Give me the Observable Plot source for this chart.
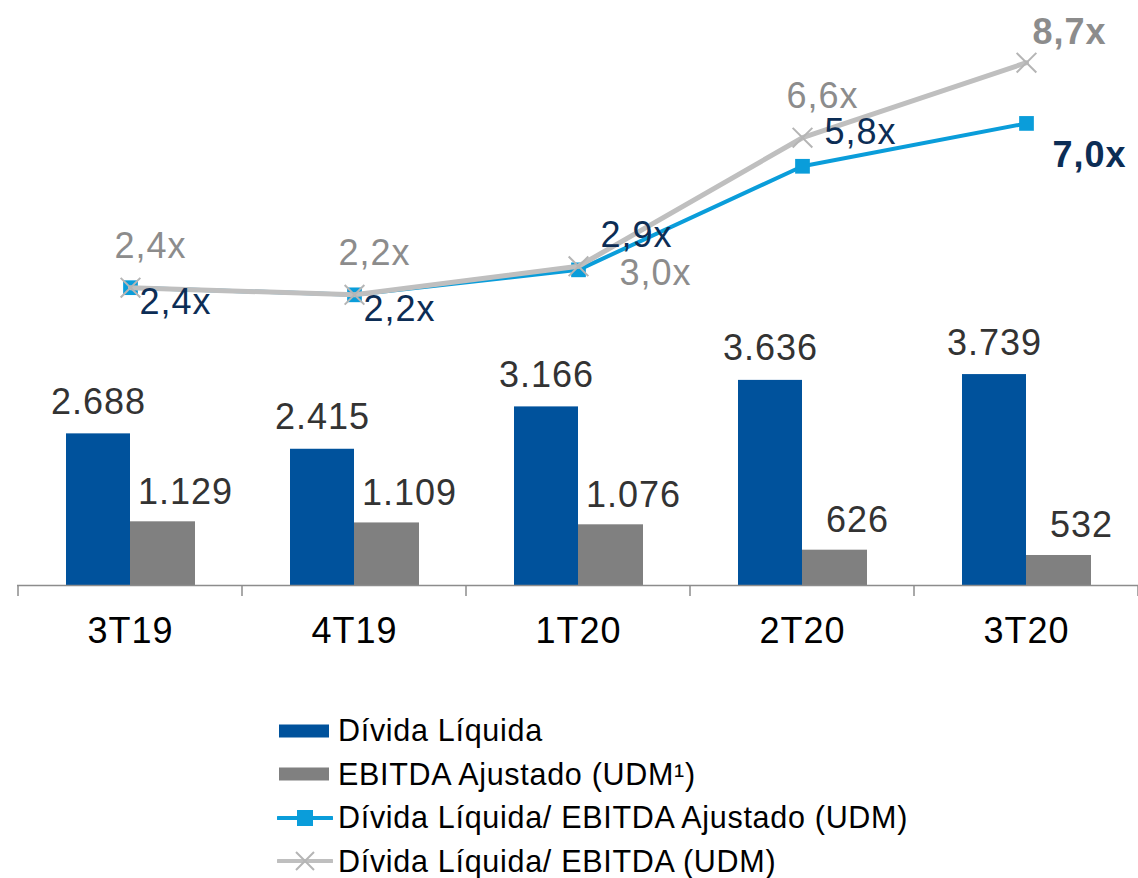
<!DOCTYPE html>
<html>
<head>
<meta charset="utf-8">
<script src="https://cdn.jsdelivr.net/npm/d3@7"></script>
<script src="https://cdn.jsdelivr.net/npm/@observablehq/plot@0.6"></script>
<style>
  body { margin: 0; background: #fff; font-family: "Liberation Sans", Arial, sans-serif; }
  #chart svg text { letter-spacing: 1px; }
  #legend { margin-left: 277px; margin-top: 19px; font-size: 30.5px; letter-spacing: 0.7px; color: #000; }
  .row { display: flex; align-items: center; height: 43.5px; white-space: nowrap; }
  .row svg { margin-right: 5px; flex: none; }
</style>
</head>
<body>
<div id="chart"></div>
<div id="legend"></div>
<script>
// ---- data ----
const quarters = ["3T19", "4T19", "1T20", "2T20", "3T20"];
const dividaLiquida = [2688, 2415, 3166, 3636, 3739];
const ebitdaAjustado = [1129, 1109, 1076, 626, 532];
const ratioAjustado = [2.4, 2.2, 2.9, 5.8, 7.0];   // Dívida Líquida / EBITDA Ajustado (UDM)
const ratioReportado = [2.4, 2.2, 3.0, 6.6, 8.7];  // Dívida Líquida / EBITDA (UDM)
const seriesNames = [
  "Dívida Líquida",
  "EBITDA Ajustado (UDM¹)",
  "Dívida Líquida/ EBITDA Ajustado (UDM)",
  "Dívida Líquida/ EBITDA (UDM)"
];
// label placement relative to each line point
const ratioAjustadoSide = ["below", "below", "above", "above", "below"];
const ratioReportadoSide = ["above", "above", "below", "above", "above"];

// ---- colours ----
const C_DEBT = "#00529C";
const C_EBITDA = "#808080";
const C_LINE_ADJ = "#0A9DDA";
const C_LINE_REP = "#BFBFBF";
const C_LABEL_ADJ = "#0C2D55";
const C_LABEL_REP = "#8C8C8C";

// ---- formatting ----
const ptBR = d3.formatLocale({decimal: ",", thousands: ".", grouping: [3], currency: ["R$", ""]});
const fmtInt = ptBR.format(",.0f");
const fmtRatio = v => ptBR.format(".1f")(v) + "x";

// ---- scales: bars on y; ratio lines mapped into the upper band of the same y scale ----
const Y_MAX = 10370;
const RATIO_ZERO = 3760;
const RATIO_UNIT = 633;
const ratioY = v => RATIO_ZERO + v * RATIO_UNIT;

const rows = quarters.map((q, i) => ({
  q,
  debt: dividaLiquida[i],
  ebitda: ebitdaAjustado[i],
  adj: ratioAjustado[i],
  rep: ratioReportado[i],
  adjSide: ratioAjustadoSide[i],
  repSide: ratioReportadoSide[i],
  last: i === quarters.length - 1
}));

function separators(index, scales, values, dims) {
  const x = scales.x;
  const bw = x.bandwidth ? x.bandwidth() : (dims.width - dims.marginLeft - dims.marginRight) / quarters.length;
  const y0 = scales.y(0);
  const xs = quarters.map(q => x(q));
  xs.push(x(quarters[quarters.length - 1]) + bw);
  const g = d3.create("svg:g");
  g.selectAll("line").data(xs).join("line")
    .attr("x1", d => d).attr("x2", d => d)
    .attr("y1", y0).attr("y2", y0 + 11)
    .attr("stroke", "#8C8C8C").attr("stroke-width", 1.5);
  return g.node();
}

const FS = 36;

const chart = Plot.plot({
  width: 1138,
  height: 690,
  marginLeft: 17,
  marginRight: 0,
  marginTop: 0,
  marginBottom: 105,
  style: {fontFamily: "'Liberation Sans', Arial, sans-serif", background: "#fff"},
  x: {type: "band", domain: quarters, padding: 0, label: null},
  y: {domain: [0, Y_MAX], axis: null},
  marks: [
    Plot.axisX({tickSize: 0, tickPadding: 32, fontSize: 36, fill: "#000", color: "#000", label: null}),
    Plot.barY(rows, {x: "q", y: "debt", fill: C_DEBT, insetLeft: 48, insetRight: 112}),
    Plot.barY(rows, {x: "q", y: "ebitda", fill: C_EBITDA, insetLeft: 112, insetRight: 47}),
    Plot.ruleY([0], {stroke: "#8C8C8C", strokeWidth: 1.5}),
    separators,
    Plot.text(rows, {x: "q", y: "debt", text: d => fmtInt(d.debt), dx: -32, dy: -20,
      lineAnchor: "bottom", fontSize: FS, fill: "#333"}),
    Plot.text(rows, {x: "q", y: "ebitda", text: d => fmtInt(d.ebitda), dx: 55, dy: -18,
      lineAnchor: "bottom", fontSize: FS, fill: "#333"}),
    // adjusted ratio line (blue, squares)
    Plot.line(rows, {x: "q", y: d => ratioY(d.adj), stroke: C_LINE_ADJ, strokeWidth: 4}),
    Plot.dot(rows, {x: "q", y: d => ratioY(d.adj), symbol: "square", r: 8.3, fill: C_LINE_ADJ}),
    // reported ratio line (gray, crosses)
    Plot.line(rows, {x: "q", y: d => ratioY(d.rep), stroke: C_LINE_REP, strokeWidth: 5}),
    Plot.dot(rows, {x: "q", y: d => ratioY(d.rep), symbol: "times", r: 9, stroke: "#B5B5B5", strokeWidth: 2}),
    // ratio labels
    Plot.text(rows.filter(d => !d.last && d.repSide === "above"), {x: "q", y: d => ratioY(d.rep), text: d => fmtRatio(d.rep),
      dx: 20, dy: -41, fontSize: FS, fill: C_LABEL_REP}),
    Plot.text(rows.filter(d => !d.last && d.repSide === "below"), {x: "q", y: d => ratioY(d.rep), text: d => fmtRatio(d.rep),
      dx: 77, dy: 7, fontSize: FS, fill: C_LABEL_REP}),
    Plot.text(rows.filter(d => d.last), {x: "q", y: d => ratioY(d.rep), text: d => fmtRatio(d.rep),
      dx: 43, dy: -30, fontSize: FS, fontWeight: "bold", fill: C_LABEL_REP}),
    Plot.text(rows.filter(d => !d.last && d.adjSide === "below"), {x: "q", y: d => ratioY(d.adj), text: d => fmtRatio(d.adj),
      dx: 45, dy: 15, fontSize: FS, fill: C_LABEL_ADJ}),
    Plot.text(rows.filter(d => !d.last && d.adjSide === "above"), {x: "q", y: d => ratioY(d.adj), text: d => fmtRatio(d.adj),
      dx: 58, dy: -34, fontSize: FS, fill: C_LABEL_ADJ}),
    Plot.text(rows.filter(d => d.last), {x: "q", y: d => ratioY(d.adj), text: d => fmtRatio(d.adj),
      dx: 63, dy: 32, fontSize: FS, fontWeight: "bold", fill: C_LABEL_ADJ})
  ]
});
document.getElementById("chart").appendChild(chart);

// ---- legend ----
const legend = d3.select("#legend");
const swatches = [
  s => s.append("rect").attr("x", 2).attr("y", 15.5).attr("width", 50).attr("height", 13).attr("fill", C_DEBT),
  s => s.append("rect").attr("x", 2).attr("y", 15.5).attr("width", 50).attr("height", 13).attr("fill", C_EBITDA),
  s => {
    s.append("line").attr("x1", 1).attr("x2", 55).attr("y1", 22).attr("y2", 22).attr("stroke", C_LINE_ADJ).attr("stroke-width", 4).attr("stroke-linecap", "round");
    s.append("rect").attr("x", 20).attr("y", 14).attr("width", 16).attr("height", 16).attr("fill", C_LINE_ADJ);
  },
  s => {
    s.append("line").attr("x1", 1).attr("x2", 55).attr("y1", 22).attr("y2", 22).attr("stroke", C_LINE_REP).attr("stroke-width", 4).attr("stroke-linecap", "round");
    s.append("path").attr("d", "M19,13L37,31M37,13L19,31").attr("stroke", "#B5B5B5").attr("stroke-width", 2);
  }
];
seriesNames.forEach((name, i) => {
  const row = legend.append("div").attr("class", "row");
  const svg = row.append("svg").attr("width", 56).attr("height", 44);
  swatches[i](svg);
  row.append("span").text(name);
});
</script>
</body>
</html>
